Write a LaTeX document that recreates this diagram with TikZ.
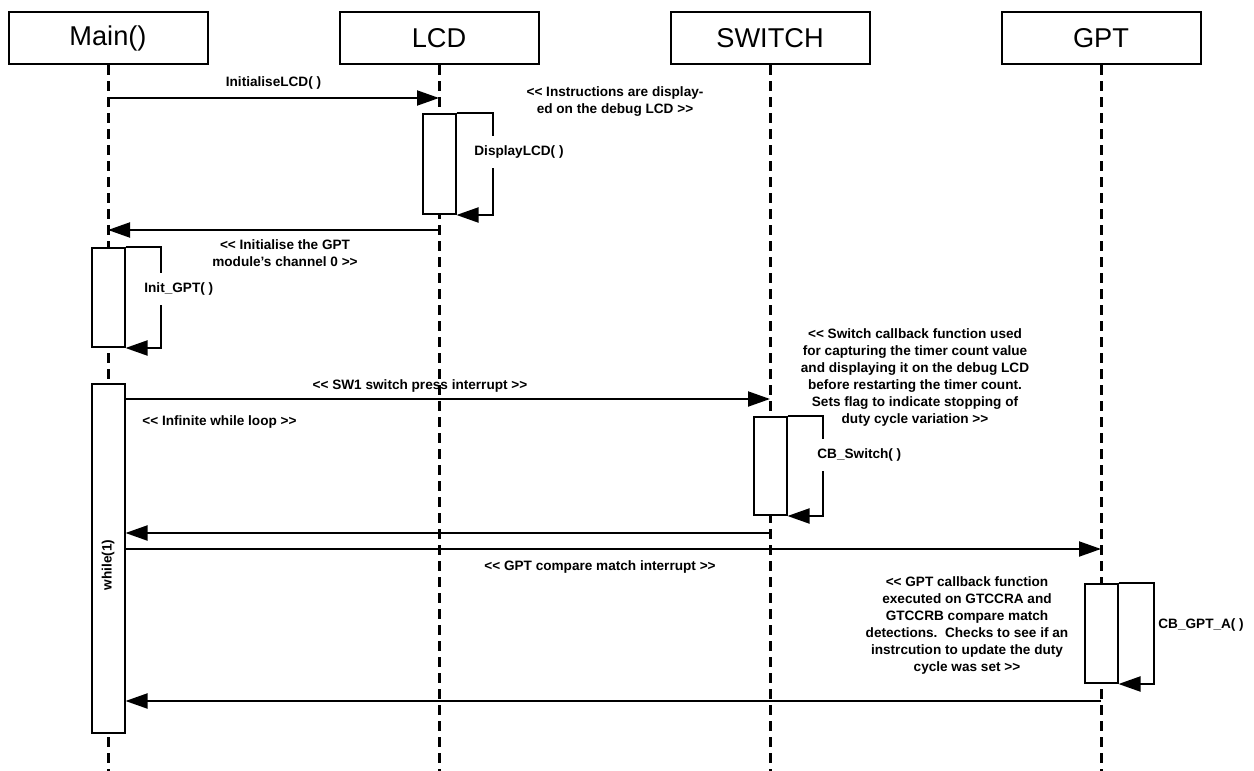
\documentclass[tikz,border=0pt]{standalone}
\usepackage{fontspec}
\setmainfont{Liberation Sans}
\usetikzlibrary{arrows.meta}

\begin{document}
\begin{tikzpicture}[x=0.5pt,y=-0.5pt]
		
		\tikzset{actor/.style = {draw, line width=1pt, minimum width=99.5pt, minimum height=26pt, font=\fontsize{13.6}{15}\selectfont}}
		\tikzset{life/.style = {line width=1.5pt, dash pattern=on 5pt off 3pt}}
		\tikzset{act/.style = {draw, fill=white, line width=1pt, minimum width=16.5pt, inner sep=0pt}}
		\tikzset{msg/.style = {line width=1pt, -{Triangle[length=11pt,width=7.5pt]}}}
		\tikzset{lbl/.style = {font=\bfseries\fontsize{6.8}{8.5}\selectfont, align=center, inner sep=1pt}}
		\tikzset{call/.style = {lbl, fill=white, anchor=west, inner xsep=1pt, inner ysep=5pt}}
		
		\useasboundingbox (0,0) rectangle (1254,771);
		
		\foreach \name/\x/\txt in {Main/108/Main(), LCD/439/LCD, SWITCH/770/SWITCH, GPT/1101/GPT}{
			\node[actor] (\name) at (\x,38) {\txt};
			\coordinate (\name End) at (\x,771);
			\draw[life] (\name) -- (\name End);
		}
		
		\coordinate (m1a) at (108,98);
		\coordinate (m1b) at (439,98);
		\draw[msg] (m1a) -- (m1b) node [midway, above=3pt, lbl] (TxtInitLCD) {InitialiseLCD( )};
		
		\node[act, minimum height=50pt] (DispLCD) at (439,164) {};
		\draw[msg] (DispLCD.north east) -- ++(36,0) |- (DispLCD.south east);
		\node[call] (TxtDispLCD) at (472,152) {DisplayLCD( )};
		\node[lbl] (NoteLCD) at (615,102) {<{}< Instructions are display-\\ed on the debug LCD >{}>};
		
		\coordinate (m2a) at (439,230);
		\coordinate (m2b) at (108,230);
		\draw[msg] (m2a) -- (m2b);
		\node[lbl] (NoteGPT) at (285,253) {<{}< Initialise the GPT\\module’s channel 0 >{}>};
		
		\node[act, minimum height=49.5pt] (InitGPT) at (108,297.5) {};
		\draw[msg] (InitGPT.north east) -- ++(35,0) |- (InitGPT.south east);
		\node[call] (TxtInitGPT) at (142,289) {Init\_GPT( )};
		
		\node[act, minimum height=174.5pt] (While) at (108,558.5) {};
		\node[lbl, rotate=90] (TxtWhile) at (108,565) {while(1)};
		\node[lbl, anchor=west] (TxtLoop) at (140,422) {<{}< Infinite while loop >{}>};
		
		\coordinate (m3a) at (While.east |- 0,399);
		\coordinate (m3b) at (770,399);
		\draw[msg] (m3a) -- (m3b);
		\node[lbl] (TxtSW1) at (420,386) {<{}< SW1 switch press interrupt >{}>};
		
		\node[act, minimum height=49pt] (CBSwitch) at (770,466) {};
		\draw[msg] (CBSwitch.north east) -- ++(35,0) |- (CBSwitch.south east);
		\node[call] (TxtCBSwitch) at (815,455) {CB\_Switch( )};
		\node[lbl] (NoteSwitch) at (915,377) {<{}< Switch callback function used\\for capturing the timer count value\\and displaying it on the debug LCD\\before restarting the timer count.\\Sets flag to indicate stopping of\\duty cycle variation >{}>};
		
		\coordinate (m4a) at (770,533);
		\coordinate (m4b) at (While.east |- 0,533);
		\draw[msg] (m4a) -- (m4b);
		
		\coordinate (m5a) at (While.east |- 0,549);
		\coordinate (m5b) at (1101,549);
		\draw[msg] (m5a) -- (m5b);
		\node[lbl] (TxtGPTInt) at (600,567) {<{}< GPT compare match interrupt >{}>};
		
		\node[act, minimum height=49.5pt] (CBGPT) at (1101,633.5) {};
		\draw[msg] (CBGPT.north east) -- ++(35,0) |- (CBGPT.south east);
		\node[call] (TxtCBGPT) at (1156,625) {CB\_GPT\_A( )};
		\node[lbl] (NoteCBGPT) at (967,625) {<{}< GPT callback function\\executed on GTCCRA and\\GTCCRB compare match\\detections.\ \ Checks to see if an\\instrcution to update the duty\\cycle was set >{}>};
		
		\coordinate (m6a) at (1101,701);
		\coordinate (m6b) at (While.east |- 0,701);
		\draw[msg] (m6a) -- (m6b);
		
\end{tikzpicture}
\end{document}
